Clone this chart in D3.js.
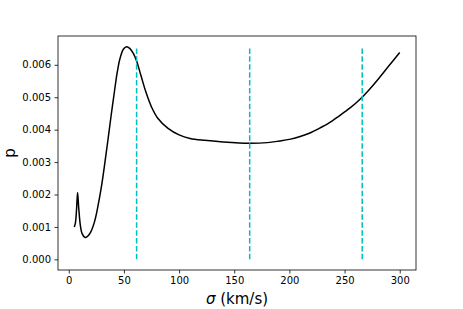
<!DOCTYPE html>
<html>
<head>
<meta charset="utf-8">
<script src="https://cdn.jsdelivr.net/npm/d3@7"></script>
<style>
  body { margin: 0; background: #fff; }
  text { font-family: "DejaVu Sans", sans-serif; }
</style>
</head>
<body>
<svg id="chart" width="463" height="309"></svg>
<script>
// Data
const sigma = [5, 6, 7, 8, 9, 10.5, 12, 14.5, 17, 20, 23.5, 26.5, 29.5, 32.5, 35.5, 38.5, 41.5,
  44, 46.5, 49.5, 52.5, 55.5, 58.5, 61.5, 65.5, 70, 75, 80.5, 90, 100, 110, 123, 140, 164, 180,
  191, 200, 209, 218, 227, 236, 245, 255, 265, 273, 281, 290, 300];
const pVals = [0.00100, 0.00112, 0.00150, 0.00206, 0.00160, 0.00105, 0.00080, 0.00068, 0.00071,
  0.00085, 0.00118, 0.00165, 0.00222, 0.00292, 0.00368, 0.00446, 0.00520, 0.00578, 0.00620,
  0.00648, 0.00656, 0.00650, 0.00635, 0.00612, 0.00566, 0.00515, 0.00470, 0.00436, 0.00404,
  0.00384, 0.00373, 0.00367, 0.00362, 0.00358, 0.00360, 0.00365, 0.00370, 0.00378, 0.00389,
  0.00404, 0.00421, 0.00442, 0.00467, 0.00497, 0.00526, 0.00558, 0.00596, 0.00638];
const vLines = [61.5, 164, 266];
const xTicks = [0, 50, 100, 150, 200, 250, 300];
const yTicks = [0, 0.001, 0.002, 0.003, 0.004, 0.005, 0.006];

const svg = d3.select('#chart');
const margin = {left: 58, top: 36, right: 47, bottom: 39};
const width = 463 - margin.left - margin.right;
const height = 309 - margin.top - margin.bottom;

const pMax = d3.max(pVals);
const x = d3.scaleLinear()
  .domain([5 - 0.05 * 295, 300 + 0.05 * 295])
  .range([0, width]);
const y = d3.scaleLinear()
  .domain([-0.05 * pMax, pMax * 1.05])
  .range([height, 0]);

const g = svg.append('g')
  .attr('transform', `translate(${margin.left},${margin.top})`);

// Curve
const pts = sigma.map((s, i) => [s, pVals[i]]);
g.append('path')
  .datum(pts)
  .attr('d', d3.line()
    .x(d => x(d[0]))
    .y(d => y(d[1]))
    .curve(d3.curveCatmullRom.alpha(0.5)))
  .style('fill', 'none')
  .style('stroke', '#000')
  .style('stroke-width', 1.5);

// Dashed vertical lines
g.selectAll('line.vline')
  .data(vLines)
  .enter().append('line')
  .attr('class', 'vline')
  .attr('x1', d => x(d))
  .attr('x2', d => x(d))
  .attr('y1', y(0))
  .attr('y2', y(pMax))
  .style('stroke', '#00bfbf')
  .style('stroke-width', 1.5)
  .style('stroke-dasharray', '5.5,2.4');

// Axes
const xAxis = g.append('g')
  .attr('transform', `translate(0,${height})`)
  .call(d3.axisBottom(x).tickValues(xTicks).tickSize(3.5).tickPadding(3.5).tickFormat(d3.format('d')));
const yAxis = g.append('g')
  .call(d3.axisLeft(y).tickValues(yTicks).tickSize(3.5).tickPadding(3.5).tickFormat(d3.format('.3f')));

[xAxis, yAxis].forEach(a => {
  a.select('.domain').remove();
  a.selectAll('line').style('stroke', '#000').style('stroke-width', 0.8);
  a.selectAll('text').style('font-size', '10px').style('fill', '#000')
    .style('font-family', '"DejaVu Sans", sans-serif');
});

// Frame
g.append('rect')
  .attr('width', width)
  .attr('height', height)
  .style('fill', 'none')
  .style('stroke', '#000')
  .style('stroke-width', 0.8);

// Labels
const xLabel = svg.append('text')
  .attr('x', margin.left + width / 2)
  .attr('y', 304)
  .attr('text-anchor', 'middle')
  .style('font-size', '15px');
xLabel.append('tspan').style('font-style', 'italic').text('σ');
xLabel.append('tspan').text(' (km/s)');

svg.append('text')
  .attr('transform', `translate(15,${margin.top + height / 2}) rotate(-90)`)
  .attr('text-anchor', 'middle')
  .style('font-size', '15px')
  .text('p');
</script>
</body>
</html>
